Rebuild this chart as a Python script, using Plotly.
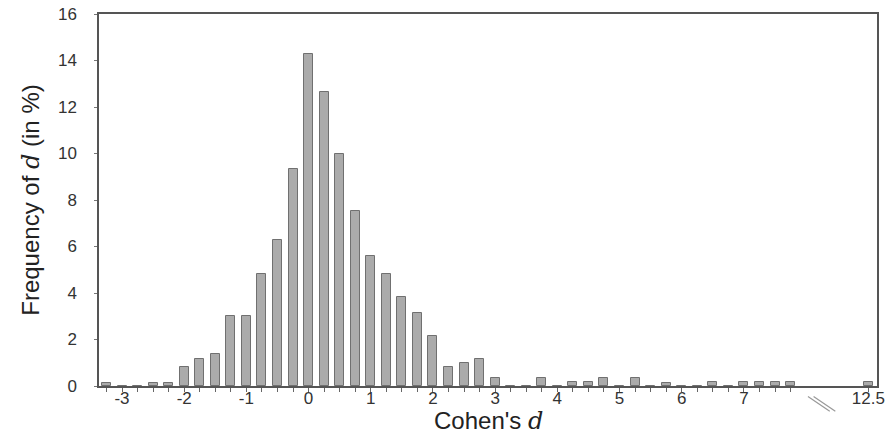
import plotly.graph_objects as go

# Bin centres of Cohen's d (width 0.25) and frequency in %
d_values = [-3.25, -3.0, -2.75, -2.5, -2.25, -2.0, -1.75, -1.5, -1.25, -1.0,
            -0.75, -0.5, -0.25, 0.0, 0.25, 0.5, 0.75, 1.0, 1.25, 1.5,
            1.75, 2.0, 2.25, 2.5, 2.75, 3.0, 3.25, 3.5, 3.75, 4.0,
            4.25, 4.5, 4.75, 5.0, 5.25, 5.5, 5.75, 6.0, 6.25, 6.5,
            6.75, 7.0, 7.25, 7.5, 7.75, 12.5]
freq = [0.15, 0.0, 0.0, 0.15, 0.15, 0.83, 1.16, 1.36, 3.0, 3.0,
        4.8, 6.28, 9.35, 14.3, 12.66, 10.0, 7.54, 5.59, 4.8, 3.81,
        3.15, 2.16, 0.83, 1.0, 1.16, 0.33, 0.0, 0.0, 0.33, 0.0,
        0.16, 0.16, 0.33, 0.0, 0.33, 0.0, 0.15, 0.0, 0.0, 0.16,
        0.0, 0.16, 0.16, 0.16, 0.16, 0.16]

x_label_vals = [-3, -2, -1, 0, 1, 2, 3, 4, 5, 6, 7, 12.5]
y_tick_vals = [0, 2, 4, 6, 8, 10, 12, 14, 16]

# Broken axis: everything beyond the break is drawn at display position 9
BREAK_FROM = 8.0
BREAK_POS = 9.0


def to_pos(v):
    return v if v <= BREAK_FROM else BREAK_POS


x_pos = [to_pos(v) for v in d_values]
# a tick at every bin centre; only the whole numbers (and 12.5) get a label
tick_pos = [to_pos(v) for v in d_values]
tick_text = [("%g" % v) if v in x_label_vals else "" for v in d_values]

fig = go.Figure()
fig.add_trace(go.Bar(
    x=x_pos, y=freq, width=0.145,
    marker=dict(color="#ababab", line=dict(color="#707070", width=1)),
    hoverinfo="skip",
))

font_main = "Arial, Liberation Sans, sans-serif"
fig.update_layout(
    width=887, height=436,
    margin=dict(l=99, r=10, t=14, b=50),
    paper_bgcolor="white", plot_bgcolor="white",
    showlegend=False,
    bargap=0,
    xaxis=dict(
        range=[-3.37, 9.14], tickmode="array", tickvals=tick_pos,
        ticktext=tick_text, ticks="outside", ticklen=4, tickcolor="#666",
        ticklabelstandoff=-8,
        showgrid=False, zeroline=False, automargin=False,
        showline=True, linecolor="#555", linewidth=1.5, mirror=True,
        tickfont=dict(family=font_main, size=17, color="#333"),
    ),
    yaxis=dict(
        range=[0, 16], tickmode="array", tickvals=y_tick_vals,
        ticks="outside", ticklen=3, tickcolor="#777",
        showgrid=False, zeroline=False, automargin=False,
        showline=True, linecolor="#555", linewidth=1.5, mirror=True,
        ticklabelstandoff=14,
        tickfont=dict(family=font_main, size=17, color="#333"),
        title=dict(text="Frequency of <i style='font-family:DejaVu Serif'>d</i> (in %)",
                   font=dict(family=font_main, size=24, color="#222"),
                   standoff=12),
    ),
)

# x-axis title, sitting at the bottom edge of the figure
fig.add_annotation(
    text="Cohen's <i style='font-family:DejaVu Serif'>d</i>",
    xref="paper", yref="paper", x=0.5, y=-50 / 372, yshift=-1,
    xanchor="center", yanchor="bottom", showarrow=False,
    font=dict(family=font_main, size=24, color="#222"),
)

# axis-break marks ("\\") below the x axis
for dx in (0.0, 0.09):
    fig.add_shape(type="line", xref="x", yref="paper",
                  x0=8.03 + dx, x1=8.38 + dx, y0=-0.028, y1=-0.068,
                  line=dict(color="#999", width=1.2))

fig.write_html("out.html",
               config={"displayModeBar": False},
               post_script="document.body.style.margin='0px';"
                           "document.body.style.padding='0px';")
